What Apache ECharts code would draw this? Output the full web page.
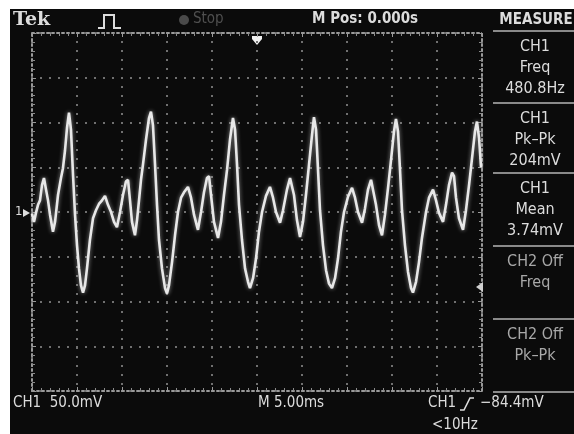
<!DOCTYPE html>
<html>
<head>
<meta charset="utf-8">
<script src="https://cdn.jsdelivr.net/npm/echarts@6/dist/echarts.min.js"></script>
<style>
html,body{margin:0;padding:0;background:#fff;}
#chart{width:574px;height:434px;}
</style>
</head>
<body>
<div id="chart"></div>
<script>
// Time (ms from left edge of screen, 5 ms/div) and CH1 voltage (mV, 50 mV/div)
const timeMs = [0.00,0.22,0.44,0.67,0.89,1.11,1.33,1.56,1.78,2.00,2.33,2.56,2.89,3.22,3.44,3.67,3.89,4.11,4.33,4.56,4.78,5.00,5.22,5.44,5.67,5.89,6.11,6.44,6.78,7.11,7.44,7.78,8.11,8.44,8.78,9.11,9.44,9.78,10.11,10.44,10.67,10.89,11.11,11.44,11.67,11.89,12.11,12.33,12.67,13.00,13.22,13.44,13.67,13.89,14.11,14.44,14.78,15.00,15.22,15.56,15.89,16.22,16.56,16.89,17.33,17.67,18.00,18.44,18.78,19.11,19.44,19.67,19.89,20.22,20.67,21.00,21.33,21.67,22.00,22.33,22.56,22.78,23.00,23.33,23.67,24.00,24.22,24.56,24.89,25.22,25.56,26.00,26.44,26.78,27.11,27.56,27.89,28.33,28.67,28.89,29.11,29.44,29.78,30.11,30.44,30.78,31.11,31.33,31.56,31.78,32.00,32.33,32.67,33.00,33.33,33.67,34.00,34.33,34.67,35.11,35.56,35.89,36.22,36.67,37.00,37.33,37.67,37.89,38.22,38.56,38.89,39.22,39.56,39.89,40.22,40.44,40.67,40.89,41.11,41.44,41.78,42.11,42.33,42.67,43.00,43.33,43.78,44.11,44.56,44.89,45.22,45.67,46.00,46.33,46.67,46.89,47.11,47.44,47.89,48.22,48.56,48.89,49.22,49.44,49.67,49.89];
const ch1mV = [-2,-11,-1,8,13,30,38,25,13,-3,-22,-11,19,38,49,69,94,111,92,41,-3,-37,-63,-82,-90,-82,-63,-31,-7,2,9,13,18,8,0,-11,-17,0,19,34,36,13,-11,-26,-9,13,36,53,81,105,112,97,53,8,-31,-63,-85,-91,-82,-56,-26,0,16,22,28,16,-3,-20,0,22,38,40,19,-11,-29,-11,19,47,81,105,92,53,8,-31,-63,-78,-85,-74,-52,-22,0,18,28,16,0,-12,2,25,38,39,19,-9,-28,-11,19,53,86,106,92,47,2,-37,-65,-80,-85,-74,-52,-22,0,17,27,16,0,-12,4,25,36,34,8,-15,-26,-3,27,58,90,104,90,47,2,-37,-67,-85,-90,-78,-56,-29,0,16,25,13,-1,-11,8,30,44,40,16,-7,-20,2,30,60,90,101,83,50];
const measureLabels = [
  ['CH1','Freq','480.8Hz'],
  ['CH1','Pk\u2013Pk','204mV'],
  ['CH1','Mean','3.74mV'],
  ['CH2 Off','Freq'],
  ['CH2 Off','Pk\u2013Pk']
];

const chart = echarts.init(document.getElementById('chart'), null, {renderer:'canvas'});
const FONT = "'Liberation Sans Narrow','DejaVu Sans Condensed','Arial Narrow',sans-serif";
const TXT = '#dcdcdc';
const DIM = '#a8a8a8';

const graphics = [
  {type:'rect', shape:{x:10,y:9,width:564,height:425}, style:{fill:'#0b0b0b'}, z:-10},
  {type:'text', left:13, top:11, style:{text:'Tek', fill:TXT, font:"bold 19px 'DejaVu Serif',serif"}},
  {type:'polyline', shape:{points:[[98,28],[104,28],[104,15],[114,15],[114,28],[121,28]]}, style:{stroke:TXT, lineWidth:2, fill:null}},
  {type:'circle', shape:{cx:184,cy:20,r:5}, style:{fill:'#4a4a4a'}},
  {type:'text', left:193, top:12, style:{text:'Stop', fill:'#4f4f4f', font:'15px '+FONT}},
  {type:'text', left:312, top:12, style:{text:'M Pos: 0.000s', fill:TXT, font:'bold 15px '+FONT}},
  {type:'text', x:536, y:20, style:{text:'MEASURE', fill:TXT, font:'bold 15px '+FONT, align:'center', verticalAlign:'middle'}},
  {type:'text', left:13, top:396, style:{text:'CH1  50.0mV', fill:TXT, font:'15px '+FONT}},
  {type:'text', left:258, top:396, style:{text:'M 5.00ms', fill:TXT, font:'15px '+FONT}},
  {type:'text', left:428, top:396, style:{text:'CH1', fill:TXT, font:'15px '+FONT}},
  {type:'polyline', shape:{points:[[460,410],[464,410],[470,398],[474,398]]}, style:{stroke:TXT, lineWidth:1.6, fill:null}},
  {type:'text', left:480, top:396, style:{text:'\u221284.4mV', fill:TXT, font:'15px '+FONT}},
  {type:'text', left:432, top:418, style:{text:'<10Hz', fill:TXT, font:'15px '+FONT}},
  {type:'text', left:15, top:205, style:{text:'1', fill:TXT, font:'13px '+FONT}},
  {type:'polygon', shape:{points:[[23,209],[30,213],[23,217]]}, style:{fill:TXT}},
  {type:'polygon', shape:{points:[[252,36],[262,36],[262,39],[257,45],[252,39]]}, style:{fill:'#f0f0f0'}},
  {type:'polygon', shape:{points:[[476,287],[483,282],[483,292]]}, style:{fill:'#d0d0d0'}, z:20}
];
const sepY = [31,103,173,246,319,392];
sepY.forEach(y=>graphics.push({type:'line', shape:{x1:493,y1:y,x2:574,y2:y}, style:{stroke:'#8a8a8a', lineWidth:2}}));
measureLabels.forEach((lines,i)=>{
  const top = sepY[i];
  const col = i<3 ? TXT : DIM;
  lines.forEach((t,j)=>{
    graphics.push({type:'text', x:535, y:top+16+j*21, style:{text:t, fill:col, font:'16px '+FONT, align:'center', verticalAlign:'middle'}});
  });
});

const gridLine = {show:true, lineStyle:{color:'#707070', width:2, type:[2,7], dashOffset:1}};
const edgeAxisLine = {show:true, onZero:false, lineStyle:{color:'#9a9a9a', width:2, type:[2,3]}};
const tick = {show:true, inside:true, length:4, lineStyle:{color:'#9a9a9a'}};
const minor = {show:true, splitNumber:5, length:3, lineStyle:{color:'#8a8a8a'}};

chart.setOption({
  backgroundColor:'#ffffff',
  animation:false,
  graphic:graphics,
  grid:{left:32, top:33, width:450, height:358, show:false},
  xAxis:[
    {type:'value', min:0, max:50, interval:5, position:'bottom',
     axisLabel:{show:false}, axisLine:edgeAxisLine, axisTick:tick, minorTick:minor, splitLine:gridLine},
    {type:'value', min:0, max:50, interval:5, position:'top',
     axisLabel:{show:false}, axisLine:edgeAxisLine, axisTick:tick, minorTick:minor, splitLine:{show:false}}
  ],
  yAxis:[
    {type:'value', min:-200, max:200, interval:50, position:'left',
     axisLabel:{show:false}, axisLine:edgeAxisLine, axisTick:tick, minorTick:minor, splitLine:gridLine},
    {type:'value', min:-200, max:200, interval:50, position:'right',
     axisLabel:{show:false}, axisLine:edgeAxisLine, axisTick:tick, minorTick:minor, splitLine:{show:false}}
  ],
  series:[{
    type:'line', xAxisIndex:0, yAxisIndex:0,
    data: timeMs.map((t,i)=>[t, ch1mV[i]]),
    showSymbol:false, smooth:false,
    lineStyle:{color:'#e8e8e8', width:2.6, shadowBlur:4, shadowColor:'rgba(200,200,200,0.7)'},
    z:5
  }]
});
</script>
</body>
</html>
